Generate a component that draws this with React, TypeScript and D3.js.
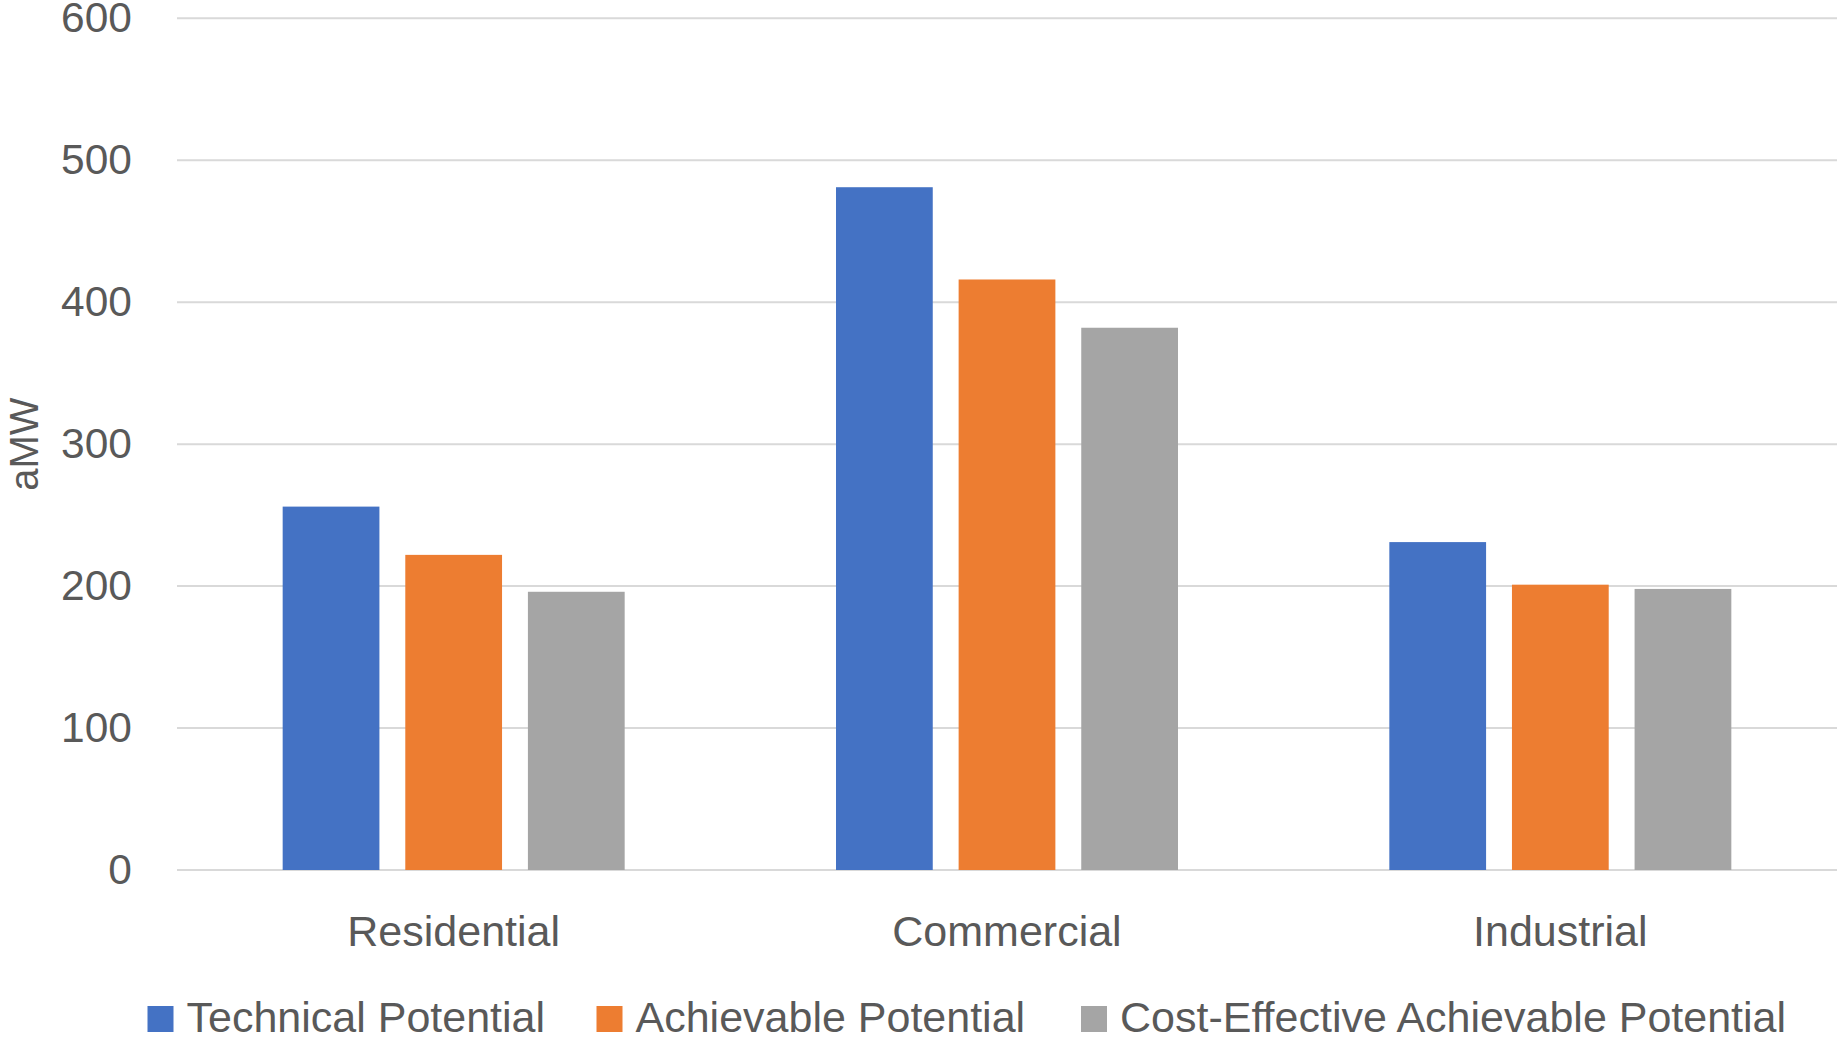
import React from "react";
import * as d3 from "d3";

// Sector categories and the three potential series (aMW)
const categories = ["Residential", "Commercial", "Industrial"];
const seriesNames = [
  "Technical Potential",
  "Achievable Potential",
  "Cost-Effective Achievable Potential",
];
const technicalPotential = [256, 481, 231];
const achievablePotential = [222, 416, 201];
const costEffectivePotential = [196, 382, 198];
const yTicks = [0, 100, 200, 300, 400, 500, 600];
const yAxisTitle = "aMW";

const seriesValues = [technicalPotential, achievablePotential, costEffectivePotential];
const seriesColors = ["#4472C4", "#ED7D31", "#A5A5A5"];

const W = 1838;
const H = 1037;
const plot = { left: 177, right: 1837, top: 18.3, bottom: 870 };
const FONT = "'Liberation Sans', Arial, sans-serif";
const TEXT = "#595959";
const GRID = "#D9D9D9";

export default function App() {
  const x0 = d3.scaleBand<string>().domain(categories).range([plot.left, plot.right]).padding(0);
  const bw = x0.bandwidth();
  const groupWidth = 342;
  const x1 = d3
    .scaleBand<string>()
    .domain(seriesNames)
    .range([(bw - groupWidth) / 2, (bw + groupWidth) / 2])
    .paddingInner(0.211)
    .paddingOuter(0);
  const y = d3.scaleLinear().domain([0, 600]).range([plot.bottom, plot.top]);

  // Legend entries laid out in one row beneath the category labels
  const legendX = [147.5, 596.5, 1081];
  const swatch = 26;
  const legendBaseline = 1032;

  return (
    <svg
      width={W}
      height={H}
      style={{ position: "absolute", left: 0, top: 0, background: "#fff" }}
      fontFamily={FONT}
    >
      <rect x={0} y={0} width={W} height={H} fill="#fff" />

      {/* horizontal gridlines and value labels */}
      {yTicks.map((t) => (
        <g key={t}>
          <line x1={plot.left} x2={plot.right} y1={y(t)} y2={y(t)} stroke={GRID} strokeWidth={2} />
          <text x={132} y={y(t) + 13.5} textAnchor="end" fontSize={42.5} fill={TEXT}>
            {t}
          </text>
        </g>
      ))}

      {/* grouped bars */}
      {categories.map((cat, ci) => (
        <g key={cat} transform={`translate(${x0(cat)},0)`}>
          {seriesNames.map((s, si) => {
            const v = seriesValues[si][ci];
            return (
              <rect
                key={s}
                x={x1(s)}
                y={y(v)}
                width={x1.bandwidth()}
                height={y(0) - y(v)}
                fill={seriesColors[si]}
              />
            );
          })}
        </g>
      ))}

      {/* category labels */}
      {categories.map((cat) => (
        <text
          key={cat}
          x={(x0(cat) as number) + bw / 2}
          y={946}
          textAnchor="middle"
          fontSize={43}
          fill={TEXT}
        >
          {cat}
        </text>
      ))}

      {/* y axis title */}
      <text
        transform={`translate(38,${(plot.top + plot.bottom) / 2}) rotate(-90)`}
        textAnchor="middle"
        fontSize={40}
        fill={TEXT}
      >
        {yAxisTitle}
      </text>

      {/* legend */}
      {seriesNames.map((s, i) => (
        <g key={s}>
          <rect
            x={legendX[i]}
            y={legendBaseline - swatch}
            width={swatch}
            height={swatch}
            fill={seriesColors[i]}
          />
          <text x={legendX[i] + 39} y={legendBaseline} fontSize={43} fill={TEXT}>
            {s}
          </text>
        </g>
      ))}
    </svg>
  );
}
